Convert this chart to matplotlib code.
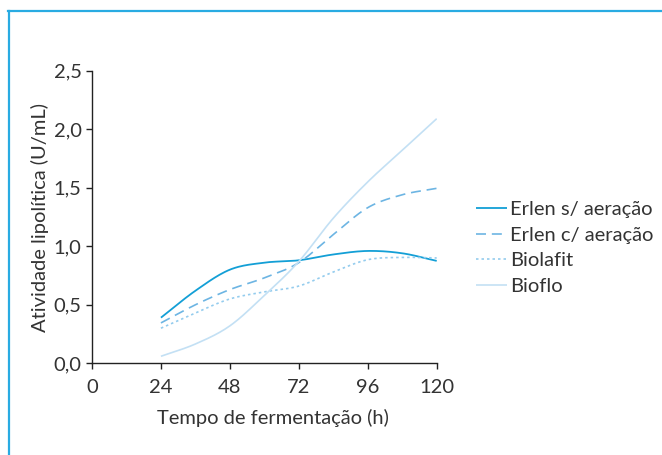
import numpy as np
import matplotlib
matplotlib.use("Agg")
import matplotlib.pyplot as plt
from matplotlib.lines import Line2D

# ---- data ----
hours = [24, 36, 48, 60, 72, 84, 96, 108, 120]
erlen_sem = [0.39, 0.62, 0.80, 0.86, 0.88, 0.93, 0.96, 0.94, 0.875]
erlen_com = [0.345, 0.50, 0.63, 0.73, 0.86, 1.10, 1.33, 1.44, 1.495]
biolafit = [0.30, 0.43, 0.55, 0.61, 0.66, 0.78, 0.885, 0.905, 0.90]
bioflo = [0.06, 0.165, 0.32, 0.58, 0.87, 1.24, 1.55, 1.82, 2.09]
series_names = ["Erlen s/ aeração", "Erlen c/ aeração", "Biolafit", "Bioflo"]
x_ticks = [0, 24, 48, 72, 96, 120]
y_ticks = [0.0, 0.5, 1.0, 1.5, 2.0, 2.5]
y_tick_labels = ["0,0", "0,5", "1,0", "1,5", "2,0", "2,5"]
x_label = "Tempo de fermentação (h)"
y_label = "Atividade lipolítica (U/mL)"


def smooth(x, y, n=20):
    """Catmull-Rom rendering of a smoothed line through the given points."""
    x = np.asarray(x, float)
    y = np.asarray(y, float)
    px = np.concatenate([[2 * x[0] - x[1]], x, [2 * x[-1] - x[-2]]])
    py = np.concatenate([[2 * y[0] - y[1]], y, [2 * y[-1] - y[-2]]])
    xs, ys = [], []
    t = np.linspace(0, 1, n, endpoint=False)
    for i in range(1, len(px) - 2):
        for arr, out in ((px, xs), (py, ys)):
            p0, p1, p2, p3 = arr[i - 1], arr[i], arr[i + 1], arr[i + 2]
            out.extend(0.5 * ((2 * p1) + (-p0 + p2) * t
                              + (2 * p0 - 5 * p1 + 4 * p2 - p3) * t ** 2
                              + (-p0 + 3 * p1 - 3 * p2 + p3) * t ** 3))
    xs.append(x[-1])
    ys.append(y[-1])
    return np.array(xs), np.array(ys)


plt.rcParams['font.family'] = ['Lato', 'DejaVu Sans']
plt.rcParams['font.weight'] = 'normal'
text_color = '#333333'
fs = 14.5

fig = plt.figure(figsize=(6.62, 4.55), dpi=100)
ax = fig.add_axes([92 / 662, 1 - 363.3 / 455, (436.7 - 92) / 662, (363.3 - 70.7) / 455])

styles = [
    dict(color='#139fd6', lw=1.3, ls='-'),
    dict(color='#6db5e3', lw=1.2, ls=(0, (6, 3.5))),
    dict(color='#94ccee', lw=1.2, ls=(0, (1.5, 1.8))),
    dict(color='#c3e0f4', lw=1.2, ls='-'),
]
for vals, name, st in zip([erlen_sem, erlen_com, biolafit, bioflo], series_names, styles):
    sx, sy = smooth(hours, vals)
    ax.plot(sx, sy, label=name, solid_capstyle='butt', **st)

ax.set_xlim(0, 120)
ax.set_ylim(0, 2.5)
ax.set_xticks(x_ticks)
ax.set_xticklabels([str(v) for v in x_ticks])
ax.set_yticks(y_ticks)
ax.set_yticklabels(y_tick_labels)
for s in ['top', 'right']:
    ax.spines[s].set_visible(False)
for s in ['left', 'bottom']:
    ax.spines[s].set_color('#222222')
    ax.spines[s].set_linewidth(1.0)
ax.tick_params(axis='both', colors='#222222', labelcolor=text_color, labelsize=fs,
               length=4.5, width=1.0, direction='out')
ax.tick_params(axis='x', pad=7)
ax.tick_params(axis='y', pad=3)

ax.set_xlabel(x_label, fontsize=fs, color=text_color, labelpad=4)
ax.xaxis.set_label_coords(0.525, -0.155)
ax.set_ylabel(y_label, fontsize=fs, color=text_color, labelpad=3)

leg = fig.legend(loc='upper left', bbox_to_anchor=(476 / 662, 1 - 201 / 455), frameon=False,
                 fontsize=fs, handlelength=1.55, handletextpad=0.15, labelspacing=0.42,
                 borderaxespad=0, borderpad=0)
for t in leg.get_texts():
    t.set_color(text_color)

frame_color = '#29abe2'
fig.add_artist(Line2D([9 / 662, 9 / 662], [0, 1 - 10.5 / 455], transform=fig.transFigure,
                      color=frame_color, lw=1.6))
fig.add_artist(Line2D([8.4 / 662, 1], [1 - 10.5 / 455, 1 - 10.5 / 455], transform=fig.transFigure,
                      color=frame_color, lw=1.6))

fig.savefig('out.png', dpi=100)
